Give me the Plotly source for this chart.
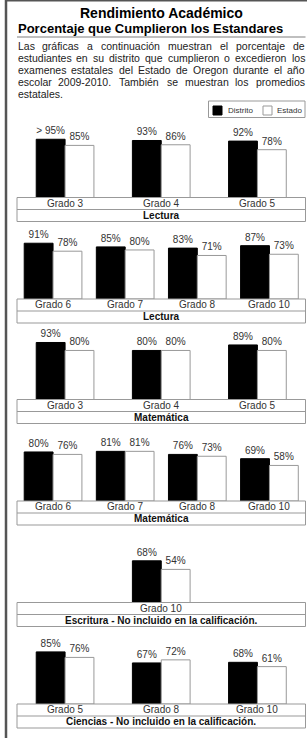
import plotly.graph_objects as go

W, H = 307, 738

# ---------------- data ----------------
lectura_a_cats = ["Grado 3", "Grado 4", "Grado 5"]
lectura_a_distrito = [95, 93, 92]
lectura_a_estado = [85, 86, 78]
lectura_a_distrito_txt = ["> 95%", "93%", "92%"]

lectura_b_cats = ["Grado 6", "Grado 7", "Grado 8", "Grado 10"]
lectura_b_distrito = [91, 85, 83, 87]
lectura_b_estado = [78, 80, 71, 73]

mate_a_cats = ["Grado 3", "Grado 4", "Grado 5"]
mate_a_distrito = [93, 80, 89]
mate_a_estado = [80, 80, 80]

mate_b_cats = ["Grado 6", "Grado 7", "Grado 8", "Grado 10"]
mate_b_distrito = [80, 81, 76, 69]
mate_b_estado = [76, 81, 73, 58]

escritura_cats = ["Grado 10"]
escritura_distrito = [68]
escritura_estado = [54]

ciencias_cats = ["Grado 5", "Grado 8", "Grado 10"]
ciencias_distrito = [85, 67, 68]
ciencias_estado = [76, 72, 61]

subjects = ["Lectura", "Lectura", "Matemática", "Matemática",
            "Escritura - No incluido en la calificación.",
            "Ciencias - No incluido en la calificación."]
series_names = ["Distrito", "Estado"]

title = "Rendimiento Académico"
subtitle = "Porcentaje que Cumplieron los Estandares"
paragraph_lines = [
    "Las gráficas a continuación muestran el porcentaje de",
    "estudiantes en su distrito que cumplieron o excedieron los",
    "examenes estatales del Estado de Oregon durante el año",
    "escolar 2009-2010. También se muestran los promedios",
    "estatales.",
]

def pct(v):
    return [f"{x}%" for x in v]

panels = [
    (lectura_a_cats, lectura_a_distrito, lectura_a_estado, lectura_a_distrito_txt),
    (lectura_b_cats, lectura_b_distrito, lectura_b_estado, pct(lectura_b_distrito)),
    (mate_a_cats, mate_a_distrito, mate_a_estado, pct(mate_a_distrito)),
    (mate_b_cats, mate_b_distrito, mate_b_estado, pct(mate_b_distrito)),
    (escritura_cats, escritura_distrito, escritura_estado, pct(escritura_distrito)),
    (ciencias_cats, ciencias_distrito, ciencias_estado, pct(ciencias_distrito)),
]

# ---------------- layout constants ----------------
FONT = "Liberation Sans, Arial, Helvetica, sans-serif"
BASES = [197.5, 299, 399.5, 501, 602.5, 704]
BAR100 = 61.3
TX0, TX1 = 17, 305.5
ROW = 12
GRAY = "#999999"
TXT = "#333333"


def px(x):
    return x / W


def py(y):
    return 1 - y / H


fig = go.Figure()
layout = dict(
    width=W, height=H, autosize=False,
    margin=dict(l=0, r=0, t=0, b=0),
    paper_bgcolor="white", plot_bgcolor="rgba(0,0,0,0)",
    barmode="overlay", showlegend=False,
    font=dict(family=FONT, size=10, color=TXT),
)
annotations = []
shapes = []

for i, (cats, dist, est, dtxt) in enumerate(panels):
    ax = "" if i == 0 else str(i + 1)
    n = len(cats)
    base = BASES[i]
    bw = 0.1 * n
    layout[f"xaxis{ax}"] = dict(domain=[px(TX0), px(TX1)], range=[-0.5, n - 0.5],
                                visible=False, fixedrange=True, anchor=f"y{ax}")
    layout[f"yaxis{ax}"] = dict(domain=[py(base), py(base - BAR100)], range=[0, 100],
                                visible=False, fixedrange=True, anchor=f"x{ax}")
    xs = list(range(n))
    fig.add_trace(go.Bar(
        x=xs, y=dist, width=bw, offset=-bw, name=series_names[0],
        marker=dict(color="black", line=dict(color="black", width=1)),
        text=dtxt, textposition="outside", constraintext="none", cliponaxis=False,
        textfont=dict(family=FONT, size=10, color=TXT),
        xaxis=f"x{ax}", yaxis=f"y{ax}", hoverinfo="skip"))
    fig.add_trace(go.Bar(
        x=xs, y=est, width=bw, offset=0, name=series_names[1],
        marker=dict(color="white", line=dict(color=GRAY, width=1)),
        text=pct(est), textposition="outside", constraintext="none", cliponaxis=False,
        textfont=dict(family=FONT, size=10, color=TXT),
        xaxis=f"x{ax}", yaxis=f"y{ax}", hoverinfo="skip"))
    # table boxes
    shapes.append(dict(type="rect", xref="paper", yref="paper",
                       x0=px(TX0), x1=px(TX1), y0=py(base + 2 * ROW), y1=py(base),
                       line=dict(color=GRAY, width=1), fillcolor="rgba(0,0,0,0)"))
    shapes.append(dict(type="line", xref="paper", yref="paper",
                       x0=px(TX0), x1=px(TX1), y0=py(base + ROW), y1=py(base + ROW),
                       line=dict(color=GRAY, width=1)))
    for k, c in enumerate(cats):
        annotations.append(dict(x=k, xref=f"x{ax}", y=py(base + ROW / 2 - 0.3), yref="paper",
                                text=c, showarrow=False, xanchor="center", yanchor="middle",
                                font=dict(family=FONT, size=10, color=TXT)))
    annotations.append(dict(x=px((TX0 + TX1) / 2), xref="paper",
                            y=py(base + 1.5 * ROW - 0.3), yref="paper",
                            text=f"<b>{subjects[i]}</b>", showarrow=False,
                            xanchor="center", yanchor="middle",
                            font=dict(family=FONT, size=10, color="#111111")))

# ---------------- header ----------------
annotations.append(dict(x=px(161.5), y=py(13.4), xref="paper", yref="paper",
                        text=f"<b>{title}</b>", showarrow=False,
                        xanchor="center", yanchor="middle",
                        font=dict(family=FONT, size=14, color="black")))
annotations.append(dict(x=px(18), y=py(28.8), xref="paper", yref="paper",
                        text=f"<b>{subtitle}</b>", showarrow=False,
                        xanchor="left", yanchor="middle", borderpad=0, borderwidth=0,
                        font=dict(family=FONT, size=13, color="black")))
shapes.append(dict(type="line", xref="paper", yref="paper",
                   x0=px(17), x1=px(305.5), y0=py(37), y1=py(37),
                   line=dict(color="#aaaaaa", width=1.5)))

# justified paragraph (Arial / Liberation Sans metrics)
AW = {"L": 556, "a": 556, "s": 500, "g": 556, "r": 333, "á": 556, "f": 278, "i": 222,
      "c": 500, "n": 556, "t": 278, "o": 556, "u": 556, "ó": 556, "m": 833, "e": 556,
      "l": 222, "p": 556, "j": 222, "d": 556, "y": 500, "x": 500, "q": 556, "E": 667,
      "O": 778, "ñ": 556, "T": 611, "b": 556, "é": 556, "0": 556, "1": 556, "2": 556,
      "9": 556, "-": 333, ".": 278}
PFS = 10.5
PX0, PX1 = 17.5, 305
for li, line in enumerate(paragraph_lines):
    yc = 45.8 + 12.15 * li
    words = line.split()
    widths = [sum(AW.get(ch, 556) for ch in w) * PFS / 1000 for w in words]
    last = li == len(paragraph_lines) - 1
    if last or len(words) == 1:
        gap = 278 * PFS / 1000
    else:
        gap = (PX1 - PX0 - sum(widths)) / (len(words) - 1)
    xcur = PX0
    for w, wd in zip(words, widths):
        annotations.append(dict(x=px(xcur), y=py(yc), xref="paper", yref="paper",
                                text=w, showarrow=False, xanchor="left", yanchor="middle",
                                borderpad=0, borderwidth=0,
                                font=dict(family=FONT, size=PFS, color="#222222")))
        xcur += wd + gap

# legend box
shapes.append(dict(type="rect", xref="paper", yref="paper",
                   x0=px(208.5), x1=px(305), y0=py(117.5), y1=py(101),
                   line=dict(color=GRAY, width=1), fillcolor="white"))
shapes.append(dict(type="rect", xref="paper", yref="paper",
                   x0=px(213), x1=px(222), y0=py(115), y1=py(106),
                   line=dict(color="black", width=1), fillcolor="black"))
shapes.append(dict(type="rect", xref="paper", yref="paper",
                   x0=px(263), x1=px(272), y0=py(115), y1=py(106),
                   line=dict(color=GRAY, width=1), fillcolor="white"))
annotations.append(dict(x=px(227.5), y=py(110.5), xref="paper", yref="paper",
                        text=series_names[0], showarrow=False, xanchor="left", yanchor="middle",
                        borderpad=0, borderwidth=0,
                        font=dict(family=FONT, size=8, color=TXT)))
annotations.append(dict(x=px(277), y=py(110.5), xref="paper", yref="paper",
                        text=series_names[1], showarrow=False, xanchor="left", yanchor="middle",
                        borderpad=0, borderwidth=0,
                        font=dict(family=FONT, size=8, color=TXT)))

# outer frame
shapes.append(dict(type="line", xref="paper", yref="paper",
                   x0=px(6), x1=px(6), y0=0, y1=1, line=dict(color="#555555", width=2.5)))
shapes.append(dict(type="line", xref="paper", yref="paper",
                   x0=px(5), x1=1, y0=py(0.8), y1=py(0.8), line=dict(color="#555555", width=1.6)))

layout["annotations"] = annotations
layout["shapes"] = shapes
fig.update_layout(**layout)
fig.write_html(
    "out.html",
    config={"displayModeBar": False, "staticPlot": True},
    post_script="document.body.style.margin='0';document.body.style.padding='0';"
                "document.body.style.overflow='hidden';",
)
